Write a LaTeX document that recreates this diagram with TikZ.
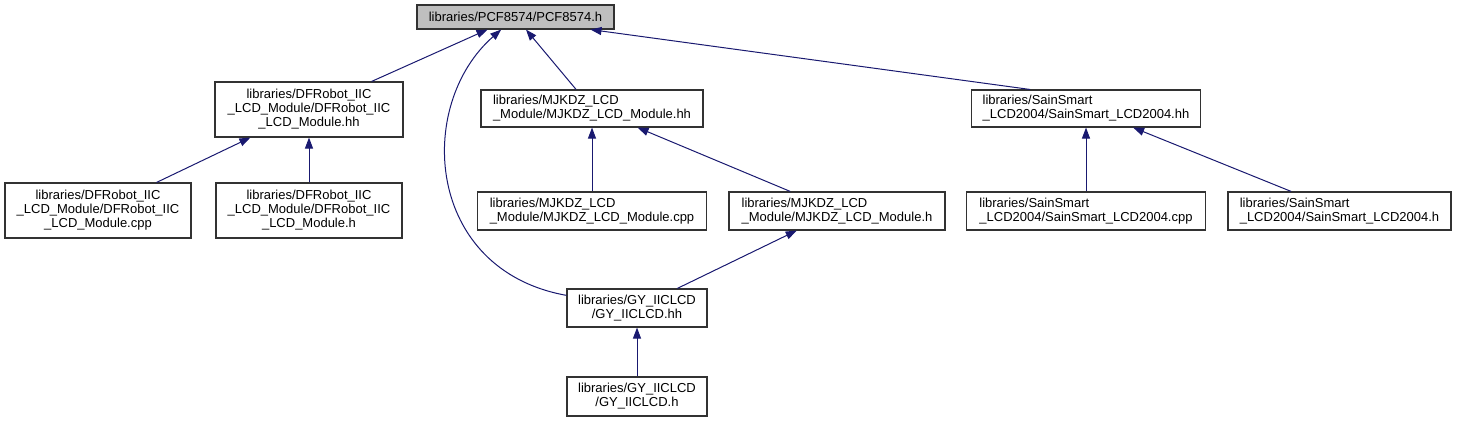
\documentclass[tikz,border=0pt]{standalone}
\usepackage{fontspec}
\setmainfont{Liberation Sans}
\usepackage{tikz}
\usetikzlibrary{arrows.meta}
\definecolor{dep}{RGB}{25,25,112}
\definecolor{rootfill}{RGB}{191,191,191}
\definecolor{frame}{RGB}{50,50,50}

\begin{document}
\begin{tikzpicture}[x=1pt,y=-1pt,>={Triangle[length=11pt,width=8pt]},
  file/.style={draw=frame,line width=1.1pt,fill=white,inner sep=0pt,font=\fontsize{13}{14}\selectfont},
  uses/.style={<-,dep,line width=1pt}]
  \useasboundingbox (0,0) rectangle (1457,424);
  % top
  \node[file,fill=rootfill,minimum width=197pt,minimum height=24pt] (root) at (515.5,17) {libraries/PCF8574/PCF8574.h};
  % second row
  \node[file,align=center,minimum width=188pt,minimum height=55pt] (dfhh) at (309,109.5) {libraries/DFRobot\_IIC\\\_LCD\_Module/DFRobot\_IIC\\\_LCD\_Module.hh};
  \node[file,align=left,minimum width=222pt,minimum height=37pt] (mjhh) at (592,108.5) {libraries/MJKDZ\_LCD\\\_Module/MJKDZ\_LCD\_Module.hh};
  \node[file,align=left,minimum width=229pt,minimum height=37pt] (sshh) at (1086,108.5) {libraries/SainSmart\\\_LCD2004/SainSmart\_LCD2004.hh};
  % third row
  \node[file,align=center,minimum width=186pt,minimum height=55pt] (dfcpp) at (98,210.5) {libraries/DFRobot\_IIC\\\_LCD\_Module/DFRobot\_IIC\\\_LCD\_Module.cpp};
  \node[file,align=center,minimum width=186pt,minimum height=55pt] (dfh) at (309,210.5) {libraries/DFRobot\_IIC\\\_LCD\_Module/DFRobot\_IIC\\\_LCD\_Module.h};
  \node[file,align=left,minimum width=229pt,minimum height=38pt] (mjcpp) at (592,211) {libraries/MJKDZ\_LCD\\\_Module/MJKDZ\_LCD\_Module.cpp};
  \node[file,align=left,minimum width=216pt,minimum height=38pt] (mjh) at (837,211) {libraries/MJKDZ\_LCD\\\_Module/MJKDZ\_LCD\_Module.h};
  \node[file,align=left,minimum width=239pt,minimum height=38pt] (sscpp) at (1086,211) {libraries/SainSmart\\\_LCD2004/SainSmart\_LCD2004.cpp};
  \node[file,align=left,minimum width=223pt,minimum height=38pt] (ssh) at (1339.5,211) {libraries/SainSmart\\\_LCD2004/SainSmart\_LCD2004.h};
  % bottom
  \node[file,align=center,minimum width=140pt,minimum height=38pt] (gyhh) at (637,308) {libraries/GY\_IICLCD\\/GY\_IICLCD.hh};
  \node[file,align=center,minimum width=140pt,minimum height=39pt] (gyh) at (637,396.5) {libraries/GY\_IICLCD\\/GY\_IICLCD.h};
  % includes
  \draw[uses] (root) -- (dfhh); \draw[uses] (root) -- (mjhh);
  \draw[uses] ([xshift=75pt]root.south) -- ([xshift=-56pt]sshh.north);
  \draw[uses] (root) .. controls (415,105) and (425,270) .. (gyhh);
  \draw[uses] (dfhh) -- (dfcpp); \draw[uses] (dfhh) -- (dfh);
  \draw[uses] (mjhh) -- (mjcpp); \draw[uses] (mjhh) -- (mjh);
  \draw[uses] (sshh) -- (sscpp); \draw[uses] (sshh) -- (ssh);
  \draw[uses] (mjh) -- (gyhh); \draw[uses] (gyhh) -- (gyh);
\end{tikzpicture}
\end{document}
